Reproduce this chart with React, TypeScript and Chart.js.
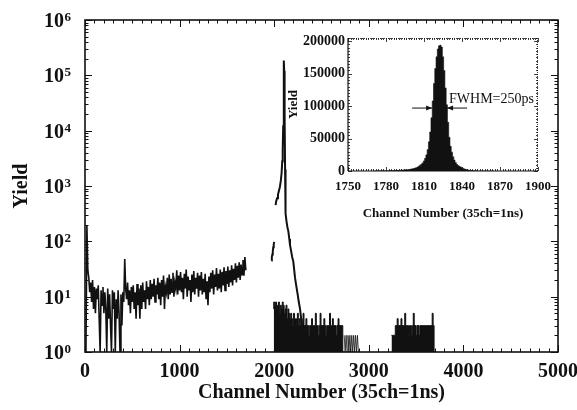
import React, { useEffect, useRef } from "react";
import { Chart, registerables } from "chart.js";
Chart.register(...registerables);

const FONT = "'Liberation Serif', 'Times New Roman', serif";
const INK = "#111111";

// ---------- main chart data ----------
const mainXTicks = [0, 1000, 2000, 3000, 4000, 5000];
const mainYExponents = [0, 1, 2, 3, 4, 5, 6];

const lowStart = 10;
const lowStep = 10;
const lowValues = [
  1, 190, 30, 22, 12, 18, 8, 20, 6, 15,
  5, 14, 9, 16, 4, 1, 13, 7, 15, 5,
  12, 6, 1, 14, 4, 11, 3, 1, 13, 6,
  12, 1, 9, 4, 13, 5, 1, 11, 3, 12,
  8, 48, 14, 9, 18, 7, 13, 5, 15, 8,
  16, 6, 12, 4, 17, 7, 14, 4, 16, 6,
  18, 8, 13, 6, 19, 9, 15, 7, 20, 9,
  17, 10, 21, 8, 16, 11, 22, 9, 18, 7,
  20, 10, 24, 6, 15, 12, 22, 9, 25, 11,
  21, 12, 27, 10, 18, 14, 30, 11, 24, 13,
  28, 12, 22, 9, 26, 14, 31, 10, 23, 13,
  20, 8, 25, 12, 29, 11, 22, 14, 27, 10,
  24, 13, 28, 11, 21, 12, 26, 9, 19, 7,
  23, 12, 27, 14, 30, 11, 25, 15, 33, 13,
  26, 14, 31, 12, 28, 16, 34, 13, 29, 17,
  35, 15, 30, 18, 37, 16, 32, 20, 40, 18,
  36, 22, 42, 20, 38, 25, 46, 24, 52, 30,
];

const peakChannels = [
  1970, 1975, 1980, 1985, 1990, 1995, 2000, 2005,
  2015, 2020, 2030, 2040, 2050, 2060, 2070, 2078, 2085, 2090, 2095, 2100,
  2103, 2106, 2110, 2115, 2120, 2130, 2140, 2150, 2160, 2167, 2180, 2190,
  2202, 2210, 2220, 2235, 2248, 2260, 2273, 2285, 2295, 2305, 2315,
];
const peakValues = [
  45, 52, 58, 66, 78, 88, 98, null,
  450, 520, 600, 700, 820, 960, 1250, 1700, 2800, 4500, 12000, 90000,
  186000, 120000, 20000, 2000, 320, 230, 180, 150, 110, 86, 65, 52,
  43, 32, 22, 15, 11, 8, 6, 4, 3, 2, 1,
];

const tailStart = 1995;
const tailStep = 10;
const tailValues = [
  6, 8, 7, 8, 6, 7, 8, 5, 7, 6,
  8, 7, 5, 6, 7, 4, 6, 5, 4, 5,
  4, 3, 5, 4, 3, 4, 5, 3, 4, 3,
  4, 3, 5, 3, 3, 4, 3, 3, 2, 3,
  3, 4, 3, 3, 3, 5, 3, 3, 2, 3,
  5, 3, 3, 3, 4, 3, 2, 3, 3, 3,
  5, 3, 3, 4, 3, 3, 3, 2, 3, 4,
  3, 3, 3, 3, 1,
];

const sparseStart = 2740;
const sparseStep = 10;
const sparseValues = [2, 1, 2, 1, 2, 1, 2, 1, 2, 1, 2, 1, 2, 1, 2, 1];

const block2Start = 3240;
const block2Step = 10;
const block2Values = [
  2, 2, 2, 2, 2, 3, 3, 4, 3, 3,
  3, 4, 3, 3, 3, 5, 3, 3, 3, 2,
  3, 3, 2, 3, 5, 3, 3, 2, 3, 3,
  2, 3, 3, 3, 3, 3, 3, 3, 3, 3,
  3, 3, 3, 3, 5, 3, 1,
];

// ---------- inset data ----------
const insetStart = 1770;
const insetValues = [
  100, 110, 130, 150, 170, 200, 230, 260, 300, 340,
  380, 430, 480, 540, 600, 670, 750, 830, 920, 1000,
  1100, 1200, 1300, 1450, 1600, 1750, 1900, 2100, 2300, 2600,
  3000, 3400, 3900, 4500, 5200, 6100, 7400, 9000, 10500, 12500,
  15500, 19500, 25000, 33000, 45000, 60000, 82000, 108000, 135000, 158000,
  176000, 188000, 193000, 194000, 191000, 176000, 155000, 128000, 102000, 75000,
  52000, 38000, 29000, 22000, 17000, 13000, 10500, 8500, 7200, 6200,
  5000, 4000, 3200, 2500, 1900, 1500, 1100, 800, 600, 450,
  350, 280, 220, 180, 150, 120, 100, 90, 80, 70,
  60, 55, 50, 45, 40, 35,
];
const insetXTicks = [1750, 1780, 1810, 1840, 1870, 1900];
const insetYTicks = [0, 50000, 100000, 150000, 200000];
const fwhmEdges = [1816.4, 1828.2];
const fwhmHalf = 97000;
const fwhmLabel = "FWHM=250ps";

const series = (start: number, step: number, values: (number | null)[]) =>
  values.map((v, i) => ({ x: start + i * step, y: v }));

const plain = (v: any) => String(v);

function seg(ctx: CanvasRenderingContext2D, x1: number, y1: number, x2: number, y2: number) {
  ctx.beginPath();
  ctx.moveTo(x1, y1);
  ctx.lineTo(x2, y2);
  ctx.stroke();
}

const mainDecor = {
  id: "mainDecor",
  afterDraw(chart: any) {
    const { ctx, chartArea: a, scales } = chart;
    const x = scales.x;
    const y = scales.y;
    ctx.save();
    ctx.strokeStyle = INK;
    ctx.lineWidth = 1;
    for (let v = 0; v <= 5000; v += 100) {
      const px = Math.round(x.getPixelForValue(v)) + 0.5;
      const len = v % 1000 === 0 ? 7 : 3.5;
      seg(ctx, px, a.bottom, px, a.bottom - len);
      seg(ctx, px, a.top, px, a.top + len);
    }
    for (const e of mainYExponents) {
      for (let m = 1; m <= 9; m++) {
        if (e === 6 && m > 1) break;
        const py = Math.round(y.getPixelForValue(m * Math.pow(10, e))) + 0.5;
        const len = m === 1 ? 7 : 3.5;
        seg(ctx, a.left, py, a.left + len, py);
        seg(ctx, a.right, py, a.right - len, py);
      }
    }
    ctx.lineWidth = 1.6;
    ctx.strokeRect(a.left, a.top, a.right - a.left, a.bottom - a.top);
    // log tick labels with superscript exponents
    ctx.fillStyle = INK;
    ctx.textBaseline = "alphabetic";
    for (const e of mainYExponents) {
      const py = y.getPixelForValue(Math.pow(10, e));
      const xr = a.left - 14;
      const sup = String(e);
      ctx.font = `bold 13px ${FONT}`;
      const sw = ctx.measureText(sup).width;
      ctx.textAlign = "left";
      ctx.fillText(sup, xr - sw, py + 1);
      ctx.font = `bold 20px ${FONT}`;
      ctx.textAlign = "right";
      ctx.fillText("10", xr - sw - 0.5, py + 7);
    }
    ctx.restore();
  },
};

const insetDecor = {
  id: "insetDecor",
  afterDraw(chart: any) {
    const { ctx, chartArea: a, scales } = chart;
    const x = scales.x;
    const y = scales.y;
    ctx.save();
    ctx.strokeStyle = INK;
    ctx.lineWidth = 0.8;
    for (let v = 1750; v <= 1900; v += 2) {
      const px = Math.round(x.getPixelForValue(v)) + 0.5;
      const len = insetXTicks.includes(v) ? 4 : 2;
      seg(ctx, px, a.bottom, px, a.bottom - len);
      seg(ctx, px, a.top, px, a.top + len);
    }
    for (let v = 0; v <= 205000; v += 5000) {
      const py = Math.round(y.getPixelForValue(v)) + 0.5;
      const len = insetYTicks.includes(v) ? 4 : 2;
      seg(ctx, a.left, py, a.left + len, py);
      seg(ctx, a.right, py, a.right - len, py);
    }
    ctx.lineWidth = 1.2;
    seg(ctx, a.left, a.top, a.left, a.bottom);
    seg(ctx, a.left, a.bottom, a.right, a.bottom);
    ctx.lineWidth = 0.8;
    ctx.setLineDash([1, 1]);
    seg(ctx, a.left, a.top + 0.5, a.right, a.top + 0.5);
    seg(ctx, a.right - 0.5, a.top, a.right - 0.5, a.bottom);
    ctx.setLineDash([]);
    // FWHM arrows
    const ay = y.getPixelForValue(fwhmHalf);
    const lx = x.getPixelForValue(fwhmEdges[0]);
    const rx = x.getPixelForValue(fwhmEdges[1]);
    const L = 20;
    ctx.lineWidth = 1;
    seg(ctx, lx - L, ay, lx, ay);
    seg(ctx, rx, ay, rx + L, ay);
    ctx.fillStyle = INK;
    ctx.beginPath();
    ctx.moveTo(lx, ay);
    ctx.lineTo(lx - 6, ay - 2.5);
    ctx.lineTo(lx - 6, ay + 2.5);
    ctx.closePath();
    ctx.fill();
    ctx.beginPath();
    ctx.moveTo(rx, ay);
    ctx.lineTo(rx + 6, ay - 2.5);
    ctx.lineTo(rx + 6, ay + 2.5);
    ctx.closePath();
    ctx.fill();
    ctx.font = `14px ${FONT}`;
    ctx.textAlign = "left";
    ctx.textBaseline = "middle";
    ctx.fillText(fwhmLabel, rx + 2, ay - 9);
    ctx.restore();
  },
};

export default function App() {
  const mainRef = useRef<HTMLCanvasElement>(null);
  const insetRef = useRef<HTMLCanvasElement>(null);

  useEffect(() => {
    Chart.defaults.font.family = FONT;
    Chart.defaults.color = INK;

    const lineCommon = {
      borderColor: INK,
      pointRadius: 0,
      tension: 0,
      fill: false,
    };

    const main = new Chart(mainRef.current!, {
      type: "line",
      data: {
        datasets: [
          { ...lineCommon, data: series(lowStart, lowStep, lowValues), borderWidth: 1.6 },
          {
            ...lineCommon,
            data: peakChannels.map((c, i) => ({ x: c, y: peakValues[i] })),
            borderWidth: 2,
            spanGaps: false,
          },
          {
            ...lineCommon,
            data: series(tailStart, tailStep, tailValues),
            borderWidth: 1,
            stepped: "after",
            fill: "start",
            backgroundColor: INK,
          },
          { ...lineCommon, data: series(sparseStart, sparseStep, sparseValues), borderWidth: 0.8 },
          {
            ...lineCommon,
            data: series(block2Start, block2Step, block2Values),
            borderWidth: 1,
            stepped: "after",
            fill: "start",
            backgroundColor: INK,
          },
        ] as any,
      },
      options: {
        responsive: false,
        animation: false,
        events: [],
        layout: { padding: { left: 8, right: 19, top: 20, bottom: 0 } },
        plugins: { legend: { display: false }, tooltip: { enabled: false } },
        scales: {
          x: {
            type: "linear",
            min: 0,
            max: 5000,
            afterBuildTicks: (s: any) => {
              s.ticks = mainXTicks.map((v) => ({ value: v }));
            },
            afterFit: (s: any) => {
              s.height = 58;
              s.paddingLeft = 0;
              s.paddingRight = 0;
            },
            grid: { display: false, drawTicks: false },
            border: { display: false },
            ticks: {
              font: { family: FONT, weight: "bold", size: 20 },
              color: INK,
              padding: 8,
              maxRotation: 0,
              callback: plain,
            },
            title: {
              display: true,
              text: "Channel Number (35ch=1ns)",
              font: { family: FONT, weight: "bold", size: 20 },
              color: INK,
              padding: { top: 0, bottom: 5 },
            },
          },
          y: {
            type: "logarithmic",
            min: 1,
            max: 1000000,
            afterFit: (s: any) => {
              s.width = 77;
            },
            grid: { display: false, drawTicks: false },
            border: { display: false },
            ticks: { display: false },
            title: {
              display: true,
              text: "Yield",
              font: { family: FONT, weight: "bold", size: 20 },
              color: INK,
              padding: { top: 2, bottom: 0 },
            },
          },
        },
      } as any,
      plugins: [mainDecor],
    });

    const inset = new Chart(insetRef.current!, {
      type: "line",
      data: {
        datasets: [
          {
            data: series(insetStart, 1, insetValues),
            borderColor: INK,
            backgroundColor: INK,
            borderWidth: 0.6,
            pointRadius: 0,
            stepped: "middle",
            fill: "origin",
          },
        ] as any,
      },
      options: {
        responsive: false,
        animation: false,
        events: [],
        layout: { padding: { left: 280, right: 39, top: 38, bottom: 180 } },
        plugins: { legend: { display: false }, tooltip: { enabled: false } },
        scales: {
          x: {
            type: "linear",
            min: 1750,
            max: 1900,
            afterBuildTicks: (s: any) => {
              s.ticks = insetXTicks.map((v) => ({ value: v }));
            },
            afterFit: (s: any) => {
              s.height = 59;
              s.paddingLeft = 0;
              s.paddingRight = 0;
            },
            grid: { display: false, drawTicks: false },
            border: { display: false },
            ticks: {
              font: { family: FONT, weight: "bold", size: 13 },
              color: INK,
              padding: 8,
              maxRotation: 0,
              callback: plain,
            },
            title: {
              display: true,
              text: "Channel Number (35ch=1ns)",
              font: { family: FONT, weight: "bold", size: 13 },
              color: INK,
              padding: { top: 0, bottom: 9 },
            },
          },
          y: {
            type: "linear",
            min: 0,
            max: 205000,
            afterBuildTicks: (s: any) => {
              s.ticks = insetYTicks.map((v) => ({ value: v }));
            },
            afterFit: (s: any) => {
              s.width = 68;
            },
            grid: { display: false, drawTicks: false },
            border: { display: false },
            ticks: {
              font: { family: FONT, weight: "bold", size: 14 },
              color: INK,
              padding: 3,
              callback: plain,
            },
            title: {
              display: true,
              text: "Yield",
              font: { family: FONT, weight: "bold", size: 13 },
              color: INK,
              padding: { top: 6, bottom: 0 },
            },
          },
        },
      } as any,
      plugins: [insetDecor],
    });

    return () => {
      main.destroy();
      inset.destroy();
    };
  }, []);

  return (
    <div style={{ position: "fixed", left: 0, top: 0, width: 577, height: 410, background: "#ffffff" }}>
      <canvas
        ref={mainRef}
        width={577}
        height={410}
        style={{ position: "absolute", left: 0, top: 0, display: "block" }}
      />
      <canvas
        ref={insetRef}
        width={577}
        height={410}
        style={{ position: "absolute", left: 0, top: 0, display: "block", pointerEvents: "none" }}
      />
    </div>
  );
}
